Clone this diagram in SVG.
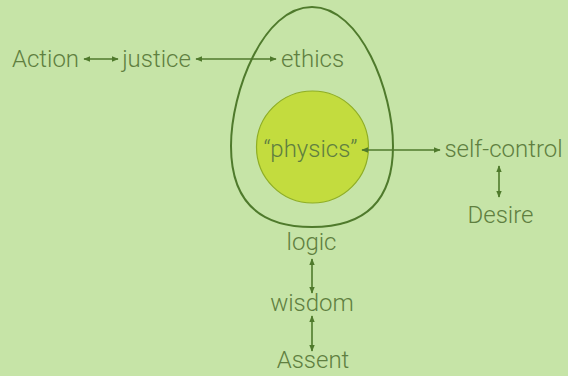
<svg xmlns="http://www.w3.org/2000/svg" width="568" height="376" viewBox="0 0 568 376">
<style>
text{font-family:Roboto,"Liberation Sans",sans-serif;font-weight:300;font-size:24px;fill:#5f7f40;text-anchor:middle}
.c{stroke:#4f7a2c;stroke-width:1.6;fill:none;marker-start:url(#ah);marker-end:url(#ah)}
</style>
<defs>
<marker id="ah" viewBox="0 0 10 10" refX="9" refY="5" markerWidth="7" markerHeight="7" markerUnits="userSpaceOnUse" orient="auto-start-reverse">
<path d="M0,1 L10,5 L0,9 Z" fill="#4f7a2c"/>
</marker>
</defs>
<rect width="568" height="376" fill="#c6e4a7"/>
<g id="egg">
<path d="M312,7 C361,7 393,92 393,146 C393,205 361,227 312,227 C263,227 231,205 231,146 C231,92 263,7 312,7 Z" fill="none" stroke="#4f7a2c" stroke-width="2"/>
</g>
<g id="yolk">
<circle cx="312.5" cy="147" r="56" fill="#c3dc3e" stroke="#8fae24" stroke-width="1.2"/>
</g>
<g id="connectors">
<line class="c" x1="84" y1="59" x2="118" y2="59"/>
<line class="c" x1="196" y1="59" x2="276" y2="59"/>
<line class="c" x1="362" y1="150" x2="440" y2="150"/>
<line class="c" x1="499" y1="166" x2="499" y2="197"/>
<line class="c" x1="312" y1="259" x2="312" y2="293"/>
<line class="c" x1="312" y1="316" x2="312" y2="351"/>
</g>
<g id="action"><text x="45.5" y="67">Action</text></g>
<g id="justice"><text x="156.5" y="67">justice</text></g>
<g id="ethics"><text x="312.5" y="67">ethics</text></g>
<g id="physics"><text x="310.5" y="157">“physics”</text></g>
<g id="self-control"><text x="503.5" y="157">self-control</text></g>
<g id="desire"><text x="500.5" y="223">Desire</text></g>
<g id="logic"><text x="311.5" y="250">logic</text></g>
<g id="wisdom"><text x="312" y="311">wisdom</text></g>
<g id="assent"><text x="313" y="368">Assent</text></g>
</svg>
